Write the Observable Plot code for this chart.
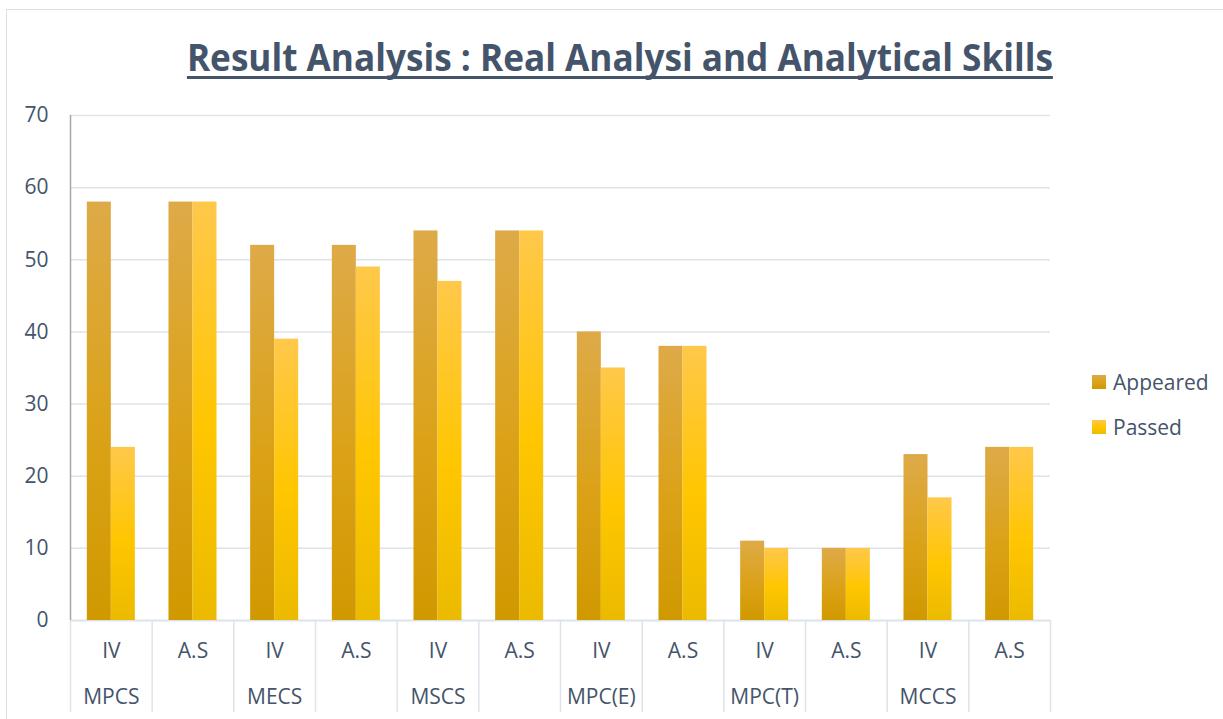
<!DOCTYPE html>
<html>
<head>
<meta charset="utf-8">
<script src="https://cdn.jsdelivr.net/npm/d3@7"></script>
<script src="https://cdn.jsdelivr.net/npm/@observablehq/plot@0.6"></script>
<style>
  html, body { margin: 0; padding: 0; background: #fff; }
  body { width: 1223px; height: 719px; overflow: hidden; position: relative; font-family: "Open Sans", sans-serif; }
  #frame { position: absolute; left: 6px; top: 9px; width: 1240px; height: 740px; border: 1.5px solid #DDE1E6; box-sizing: border-box; }
  #title { position: absolute; left: 0; top: 37px; width: 1240px; text-align: center; font-size: 38px; line-height: 38px; font-weight: 700; color: #44546A; }
  #title span { display: inline-block; text-decoration: underline; text-decoration-thickness: 3px; text-underline-offset: 5px; text-decoration-skip-ink: none; white-space: nowrap; transform-origin: center; }
  #chart { position: absolute; left: 0; top: 0; }
  .legend { position: absolute; left: 1092px; font-size: 21px; color: #44546A; line-height: 21px; }
  .legend .sw { display: inline-block; width: 14px; height: 14px; vertical-align: middle; margin-right: 7px; position: relative; top: -2px; }
</style>
</head>
<body>
<div id="frame"></div>
<div id="chart"></div>
<div id="title"><span id="titleText"></span></div>
<div class="legend" id="lgA" style="top:372px"><span class="sw" style="background:linear-gradient(#DEAA48,#DBA218 55%,#D09900)"></span><span id="lgAText"></span></div>
<div class="legend" id="lgP" style="top:417px"><span class="sw" style="background:linear-gradient(#FFC84A,#FFC600 55%,#EBBA00)"></span><span id="lgPText"></span></div>
<script>
const titleText = "Result Analysis : Real Analysi and Analytical Skills";
const subjects = ["MPCS", "MECS", "MSCS", "MPC(E)", "MPC(T)", "MCCS"];
const types = ["IV", "A.S"];
const seriesNames = ["Appeared", "Passed"];
const appeared = [58, 58, 52, 52, 54, 54, 40, 38, 11, 10, 23, 24];
const passed   = [24, 58, 39, 49, 47, 54, 35, 38, 10, 10, 17, 24];
const yTicks = [0, 10, 20, 30, 40, 50, 60, 70];

const rows = appeared.map((a, i) => ({
  i,
  subject: subjects[Math.floor(i / 2)],
  type: types[i % 2],
  appeared: a,
  passed: passed[i]
}));

const bw = 0.294; // bar width in group units
const txt = "#44546A";
const grid = "#DDE3EA";

const plot = Plot.plot({
  width: 1223,
  height: 719,
  marginLeft: 70,
  marginRight: 173,
  marginTop: 115,
  marginBottom: 99,
  style: { fontFamily: "'Open Sans', sans-serif", color: txt, background: "transparent", overflow: "visible" },
  x: { domain: [0, rows.length], axis: null },
  y: { domain: [0, 70], axis: null },
  marks: [
    Plot.gridY(yTicks.slice(1), { stroke: grid, strokeOpacity: 1, strokeWidth: 1.5 }),
    Plot.ruleX(d3.range(rows.length + 1), { y1: 0, y2: -12.75, stroke: grid, strokeWidth: 1.5 }),
    Plot.ruleY([0], { stroke: grid, strokeWidth: 2 }),
    Plot.rectY(rows, { x1: d => d.i + 0.5 - bw, x2: d => d.i + 0.5, y: "appeared", fill: "url(#gradA)" }),
    Plot.rectY(rows, { x1: d => d.i + 0.5, x2: d => d.i + 0.5 + bw, y: "passed", fill: "url(#gradP)" }),
    Plot.ruleX([0], { y1: 0, y2: 70, stroke: "#A6A6A6", strokeWidth: 1.5 }),
    Plot.axisY({ ticks: yTicks, tickSize: 0, tickPadding: 22, fontSize: 21, fill: txt }),
    Plot.text(rows, { x: d => d.i + 0.5, y: -4.3, text: "type", fontSize: 21, fill: txt }),
    Plot.text(rows.filter(d => d.i % 2 === 0), { x: d => d.i + 0.5, y: -10.67, text: "subject", fontSize: 21, fill: txt })
  ]
});

const svg = d3.select(plot);
const defs = svg.insert("defs", ":first-child");
function grad(id, stops) {
  const g = defs.append("linearGradient").attr("id", id).attr("x1", 0).attr("y1", 0).attr("x2", 0).attr("y2", 1);
  stops.forEach(([o, c]) => g.append("stop").attr("offset", o).attr("stop-color", c));
}
grad("gradA", [[0, "#DEAA48"], [0.55, "#DBA218"], [1, "#D09900"]]);
grad("gradP", [[0, "#FFC84A"], [0.55, "#FFC600"], [1, "#EBBA00"]]);

document.getElementById("chart").appendChild(plot);

document.getElementById("lgAText").textContent = seriesNames[0];
document.getElementById("lgPText").textContent = seriesNames[1];

const t = document.getElementById("titleText");
t.textContent = titleText;
const w = t.getBoundingClientRect().width;
t.style.transform = `scaleX(${866 / w})`;
</script>
</body>
</html>
